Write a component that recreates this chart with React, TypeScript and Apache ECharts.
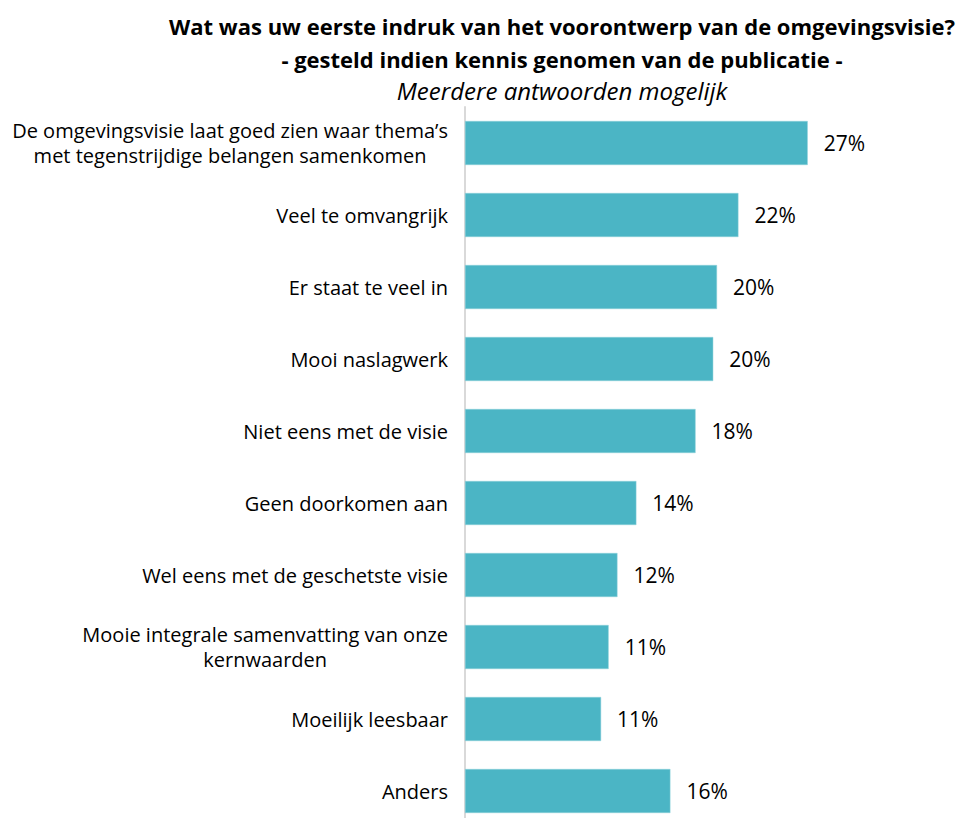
import React, { useEffect, useRef } from "react";
import * as echarts from "echarts";

const categories = [
  "De omgevingsvisie laat goed zien waar thema’s\nmet tegenstrijdige belangen samenkomen",
  "Veel te omvangrijk",
  "Er staat te veel in",
  "Mooi naslagwerk",
  "Niet eens met de visie",
  "Geen doorkomen aan",
  "Wel eens met de geschetste visie",
  "Mooie integrale samenvatting van onze\nkernwaarden",
  "Moeilijk leesbaar",
  "Anders",
];
const values = [27.2, 21.7, 20.0, 19.7, 18.3, 13.6, 12.1, 11.4, 10.8, 16.3];

const titleLine1 = "Wat was uw eerste indruk van het voorontwerp van de omgevingsvisie?";
const titleLine2 = "- gesteld indien kennis genomen van de publicatie -";
const titleLine3 = "Meerdere antwoorden mogelijk";

const FONT = "'Open Sans', sans-serif";

export default function App() {
  const ref = useRef<HTMLDivElement>(null);
  useEffect(() => {
    if (!ref.current) return;
    const chart = echarts.init(ref.current, null, { renderer: "svg" });
    chart.setOption({
      animation: false,
      backgroundColor: "#ffffff",
      title: {
        left: 557,
        top: 4,
        textAlign: "center",
        text: `{a|${titleLine1}}\n{a|${titleLine2}}\n{c|${titleLine3}}`,
        textStyle: {
          fontWeight: "normal",
          rich: {
            a: { fontFamily: FONT, fontWeight: "bold", fontSize: 22, color: "#000", lineHeight: 33, align: "center" },
            c: { fontFamily: FONT, fontWeight: "normal", fontStyle: "italic", fontSize: 24, color: "#000", lineHeight: 31, align: "center" },
          },
        },
      },
      grid: { left: 465, right: 115, top: 107, bottom: 0, containLabel: false },
      xAxis: {
        type: "value",
        min: 0,
        max: 30,
        show: false,
      },
      yAxis: {
        type: "category",
        inverse: true,
        data: categories,
        axisLine: { show: true, lineStyle: { color: "#D9D9D9", width: 2 } },
        axisTick: { show: false },
        axisLabel: {
          margin: 17,
          formatter: (v: string) =>
            v
              .split("\n")
              .map((s) => `{l|${s}}`)
              .join("\n"),
          rich: {
            l: { fontFamily: FONT, fontSize: 20, color: "#000", lineHeight: 25, align: "center" },
          },
        },
      },
      series: [
        {
          type: "bar",
          data: values,
          barWidth: 44,
          itemStyle: { color: "#4BB5C5", borderColor: "#8FD0DA", borderWidth: 0.5 },
          label: {
            show: true,
            position: "right",
            distance: 16,
            formatter: (p: any) => `${Math.round(p.value)}%`,
            fontFamily: FONT,
            fontSize: 21,
            color: "#000",
          },
        },
      ],
    });
    return () => chart.dispose();
  }, []);
  return (
    <div
      ref={ref}
      style={{ position: "fixed", left: 0, top: 0, width: 958, height: 827 }}
    />
  );
}
